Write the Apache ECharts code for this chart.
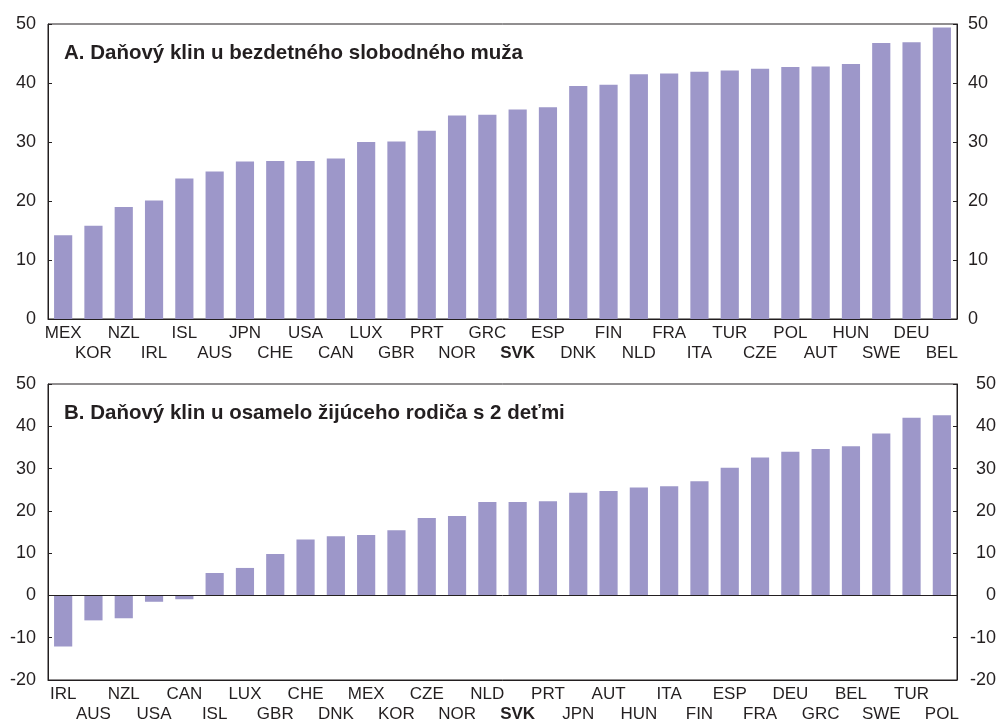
<!DOCTYPE html>
<html>
<head>
<meta charset="utf-8">
<script src="https://cdn.jsdelivr.net/npm/echarts@6/dist/echarts.min.js"></script>
<style>
  html, body { margin: 0; padding: 0; background: #fff; }
  #chart { width: 996px; height: 720px; }
</style>
</head>
<body>
<div id="chart"></div>
<script>
// panel A: single childless man
var countriesA = ['MEX', 'KOR', 'NZL', 'IRL', 'ISL', 'AUS', 'JPN', 'CHE', 'USA', 'CAN',
  'LUX', 'GBR', 'PRT', 'NOR', 'GRC', 'SVK', 'ESP', 'DNK', 'FIN', 'NLD',
  'FRA', 'ITA', 'TUR', 'CZE', 'POL', 'AUT', 'HUN', 'SWE', 'DEU', 'BEL']
var valuesA = [14.2, 15.8, 19.0, 20.1, 23.8, 25.0, 26.7, 26.8, 26.8, 27.2,
  30.0, 30.1, 31.9, 34.5, 34.6, 35.5, 35.9, 39.5, 39.7, 41.5,
  41.6, 41.9, 42.1, 42.4, 42.7, 42.8, 43.2, 46.8, 46.9, 49.4]

// panel B: single parent with 2 children
var countriesB = ['IRL', 'AUS', 'NZL', 'USA', 'CAN', 'ISL', 'LUX', 'GBR', 'CHE', 'DNK',
  'MEX', 'KOR', 'CZE', 'NOR', 'NLD', 'SVK', 'PRT', 'JPN', 'AUT', 'HUN',
  'ITA', 'FIN', 'ESP', 'FRA', 'DEU', 'GRC', 'BEL', 'SWE', 'TUR', 'POL']
var valuesB = [-12.1, -5.9, -5.4, -1.5, -0.9, 5.3, 6.5, 9.8, 13.2, 14.0,
  14.3, 15.4, 18.3, 18.8, 22.1, 22.1, 22.3, 24.3, 24.7, 25.5,
  25.8, 27.0, 30.2, 32.6, 34.0, 34.6, 35.3, 38.3, 42.0, 42.6]

var titleA = 'A. Daňový klin u bezdetného slobodného muža'
var titleB = 'B. Daňový klin u osamelo žijúceho rodiča s 2 deťmi'

var FONT = 'Liberation Sans, Arial, sans-serif'
var TEXT = '#231f20'
var BAR = '#9d97c9'

function xAxisCfg (gridIndex, data) {
  return {
    type: 'category',
    gridIndex: gridIndex,
    data: data,
    axisLine: { onZero: false, lineStyle: { color: TEXT, width: 1 } },
    axisTick: { show: false },
    axisLabel: {
      interval: 0,
      margin: 4,
      color: TEXT,
      fontFamily: FONT,
      fontSize: 17,
      lineHeight: 20,
      formatter: function (value, index) {
        var s = value === 'SVK' ? '{b|SVK}' : value
        return index % 2 ? '\n' + s : s
      },
      rich: {
        b: { fontWeight: 'bold', fontFamily: FONT, fontSize: 17, lineHeight: 20, color: TEXT }
      }
    }
  }
}

function yAxisCfg (gridIndex, pos, min, max, opts) {
  return Object.assign({
    type: 'value',
    gridIndex: gridIndex,
    position: pos,
    min: min,
    max: max,
    interval: 10,
    splitLine: { show: false },
    axisLine: { show: true, lineStyle: { color: TEXT, width: 1 } },
    axisTick: { show: true, inside: true, length: 4, lineStyle: { color: TEXT } },
    axisLabel: { color: TEXT, fontFamily: FONT, fontSize: 18, margin: 12 }
  }, opts || {})
}

var chart = echarts.init(document.getElementById('chart'))
chart.setOption({
  animation: false,
  title: [
    { text: titleA, left: 59, top: 38, textStyle: { fontFamily: FONT, fontSize: 20.5, fontWeight: 'bold', color: TEXT } },
    { text: titleB, left: 59, top: 398, textStyle: { fontFamily: FONT, fontSize: 20.5, fontWeight: 'bold', color: TEXT } }
  ],
  grid: [
    { left: 48, right: 39, top: 24, height: 295, show: true, borderColor: TEXT, borderWidth: 1, outerBoundsMode: 'none' },
    { left: 48, right: 39, top: 384, height: 296, show: true, borderColor: TEXT, borderWidth: 1, outerBoundsMode: 'none' }
  ],
  xAxis: [xAxisCfg(0, countriesA), xAxisCfg(1, countriesB)],
  yAxis: [
    yAxisCfg(0, 'left', 0, 50),
    yAxisCfg(0, 'right', 0, 50, {
      axisLabel: { color: TEXT, fontFamily: FONT, fontSize: 18, margin: 11 }
    }),
    yAxisCfg(1, 'left', -20, 50),
    yAxisCfg(1, 'right', -20, 50, {
      axisLabel: { color: TEXT, fontFamily: FONT, fontSize: 18, margin: 39, align: 'right' }
    })
  ],
  series: [
    {
      type: 'bar',
      xAxisIndex: 0,
      yAxisIndex: 0,
      data: valuesA,
      barWidth: '60%',
      itemStyle: { color: BAR }
    },
    {
      type: 'bar',
      xAxisIndex: 1,
      yAxisIndex: 2,
      data: valuesB,
      barWidth: '60%',
      itemStyle: { color: BAR },
      markLine: {
        silent: true,
        symbol: 'none',
        label: { show: false },
        lineStyle: { color: TEXT, width: 1, type: 'solid' },
        data: [{ yAxis: 0 }]
      }
    }
  ]
})
</script>
</body>
</html>
